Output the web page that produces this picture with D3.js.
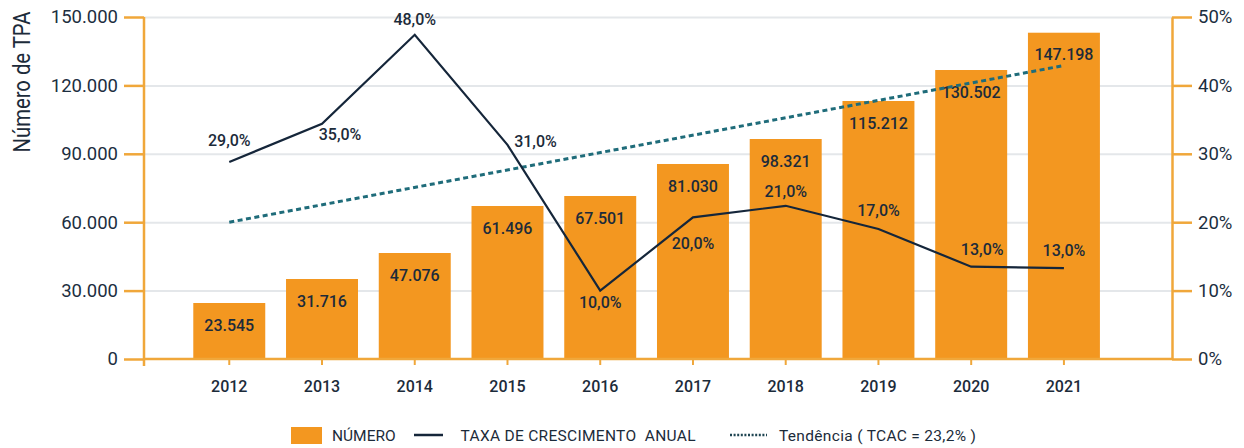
<!DOCTYPE html>
<html>
<head>
<meta charset="utf-8">
<script src="https://cdn.jsdelivr.net/npm/d3@7"></script>
<style>
  body { margin: 0; background: #fff; }
  text { font-family: Roboto, "Noto Sans", sans-serif; fill: #1c2b3a; }
</style>
</head>
<body>
<svg></svg>
<script>
// categories
var years = ["2012", "2013", "2014", "2015", "2016", "2017", "2018", "2019", "2020", "2021"];

// number of TPA (label values) and bar heights as drawn in the picture
var numero = [23545, 31716, 47076, 61496, 67501, 81030, 98321, 115212, 130502, 147198];
var numeroDrawn = [24560, 35090, 46490, 67100, 71490, 85530, 96490, 113160, 126750, 143110];

// annual growth rate (label values) and line points as drawn
var taxa = [29, 35, 48, 31, 10, 20, 21, 17, 13, 13];
var taxaDrawn = [28.8, 34.4, 47.4, 31.3, 10.0, 20.7, 22.4, 19.0, 13.5, 13.3];

// trend line (TCAC) end points, in %
var trendYears = ["2012", "2021"];
var trendValues = [20.0, 42.9];

// axis ticks
var leftTicks = [0, 30000, 60000, 90000, 120000, 150000];
var rightTicks = [0, 10, 20, 30, 40, 50];

var width = 1244;
var height = 448;

var svg = d3.select("svg")
            .attr("width", width)
            .attr("height", height);

var axisColor = "#f0a73a";
var barColor = "#f39720";
var lineColor = "#15263a";
var trendColor = "#1f6c7a";

var plotLeft = 144, plotRight = 1172, plotTop = 17, plotBottom = 359;

var loc = d3.formatLocale({decimal: ",", thousands: ".", grouping: [3], currency: ["", ""]});
var fmtNum = loc.format(",");
var fmtPct = function(v) { return loc.format(",.1f")(v) + "%"; };

var xScale = d3.scaleBand()
               .domain(years)
               .range([182.9, 1110.3])
               .paddingInner(0.224)
               .paddingOuter(0.112);

var yLeft = d3.scaleLinear()
              .domain([0, 150000])
              .range([plotBottom, plotTop]);

var yRight = d3.scaleLinear()
               .domain([0, 50])
               .range([plotBottom, plotTop]);

var cx = d => xScale(d) + xScale.bandwidth() / 2;

// gridlines
svg.append("g")
   .attr("transform", "translate(" + plotLeft + ",0)")
   .call(d3.axisLeft(yLeft)
       .tickValues(leftTicks.slice(1))
       .tickSize(-(plotRight - plotLeft))
       .tickFormat(""))
   .call(g => g.select(".domain").remove())
   .selectAll("line")
   .attr("stroke", "#e4e7ea")
   .attr("stroke-width", 2);

// bars
svg.append("g").selectAll("rect")
   .data(years)
   .enter().append("rect")
   .attr("x", d => xScale(d))
   .attr("width", xScale.bandwidth())
   .attr("y", (d, i) => yLeft(numeroDrawn[i]))
   .attr("height", (d, i) => plotBottom - yLeft(numeroDrawn[i]))
   .attr("fill", barColor);

// bar labels
svg.append("g").selectAll("text")
   .data(years)
   .enter().append("text")
   .attr("x", d => cx(d))
   .attr("y", (d, i) => yLeft(numeroDrawn[i]) + 22)
   .attr("dy", "0.35em")
   .attr("text-anchor", "middle")
   .style("font-size", "16px")
   .style("font-weight", 500)
   .text((d, i) => fmtNum(numero[i]));

// trend line
svg.append("path")
   .datum(trendYears)
   .attr("fill", "none")
   .attr("stroke", trendColor)
   .attr("stroke-width", 3)
   .attr("stroke-dasharray", "5,3.5")
   .attr("d", d3.line()
       .x(d => cx(d))
       .y((d, i) => yRight(trendValues[i])));

// growth rate line
svg.append("path")
   .datum(years)
   .attr("fill", "none")
   .attr("stroke", lineColor)
   .attr("stroke-width", 2.2)
   .attr("d", d3.line()
       .x(d => cx(d))
       .y((d, i) => yRight(taxaDrawn[i])));

// rate labels, nudged like the original
var rateNudge = [[0, -21.5], [18, 11], [0, -15.3], [28, -4], [0, 11.4], [0, 26.4], [0, -14], [0, -19], [11, -17], [0, -18]];
svg.append("g").selectAll("text")
   .data(years)
   .enter().append("text")
   .attr("x", (d, i) => cx(d) + rateNudge[i][0])
   .attr("y", (d, i) => yRight(taxaDrawn[i]) + rateNudge[i][1])
   .attr("dy", "0.35em")
   .attr("text-anchor", "middle")
   .style("font-size", "16px")
   .style("font-weight", 500)
   .text((d, i) => fmtPct(taxa[i]));

// left axis
var gl = svg.append("g")
   .attr("transform", "translate(" + plotLeft + ",0)")
   .call(d3.axisLeft(yLeft)
       .tickValues(leftTicks)
       .tickSize(20)
       .tickPadding(6)
       .tickSizeOuter(0)
       .tickFormat(fmtNum));
gl.select(".domain").remove();
gl.append("line")
  .attr("x1", 0).attr("x2", 0)
  .attr("y1", plotTop).attr("y2", plotBottom + 7)
  .attr("stroke", axisColor).attr("stroke-width", 2.5);
gl.selectAll(".tick line").attr("stroke", axisColor).attr("stroke-width", 2.5);
gl.selectAll(".tick text")
  .style("font-size", "18.5px")
  .style("fill", "#1c2e40");

// right axis
var gr = svg.append("g")
   .attr("transform", "translate(" + plotRight + ",0)")
   .call(d3.axisRight(yRight)
       .tickValues(rightTicks)
       .tickSize(20)
       .tickPadding(6)
       .tickSizeOuter(0)
       .tickFormat(d => d + "%"));
gr.select(".domain").attr("stroke", axisColor).attr("stroke-width", 2.5);
gr.selectAll(".tick line").attr("stroke", axisColor).attr("stroke-width", 2.5);
gr.selectAll(".tick text")
  .style("font-size", "18.5px")
  .style("fill", "#1c2e40");

// bottom axis
var gb = svg.append("g")
   .attr("transform", "translate(0," + plotBottom + ")")
   .call(d3.axisBottom(xScale)
       .tickSize(6)
       .tickPadding(16)
       .tickSizeOuter(0));
gb.select(".domain").remove();
gb.append("line")
  .attr("x1", plotLeft).attr("x2", plotRight)
  .attr("stroke", axisColor).attr("stroke-width", 2.5);
gb.selectAll(".tick line").attr("stroke", axisColor).attr("stroke-width", 2);
gb.selectAll(".tick text")
  .style("font-size", "16px")
  .style("font-weight", 500)
  .style("fill", "#1c2b3a");

// y axis title
svg.append("text")
   .attr("transform", "translate(30,82) rotate(-90)")
   .attr("text-anchor", "middle")
   .attr("textLength", 141)
   .attr("lengthAdjust", "spacingAndGlyphs")
   .style("font-size", "24px")
   .text("Número de TPA");

// legend
var legend = svg.append("g");
legend.append("rect")
      .attr("x", 291).attr("y", 427)
      .attr("width", 31).attr("height", 17)
      .attr("fill", barColor);
legend.append("text")
      .attr("x", 332).attr("y", 440.5)
      .style("font-size", "15.5px")
      .text("NÚMERO");
legend.append("line")
      .attr("x1", 414).attr("x2", 443)
      .attr("y1", 435).attr("y2", 435)
      .attr("stroke", lineColor).attr("stroke-width", 2.5);
legend.append("text")
      .attr("x", 460.5).attr("y", 440.5)
      .style("font-size", "15.5px")
      .style("white-space", "pre")
      .attr("textLength", 235)
      .text("TAXA DE CRESCIMENTO  ANUAL");
legend.append("line")
      .attr("x1", 730).attr("x2", 767)
      .attr("y1", 435).attr("y2", 435)
      .attr("stroke", "#1f4552").attr("stroke-width", 2.5)
      .attr("stroke-dasharray", "2,1.6");
legend.append("text")
      .attr("x", 779).attr("y", 440.5)
      .style("font-size", "15.5px")
      .style("white-space", "pre")
      .attr("textLength", 197)
      .text("Tendência ( TCAC = 23,2% )");
</script>
</body>
</html>
